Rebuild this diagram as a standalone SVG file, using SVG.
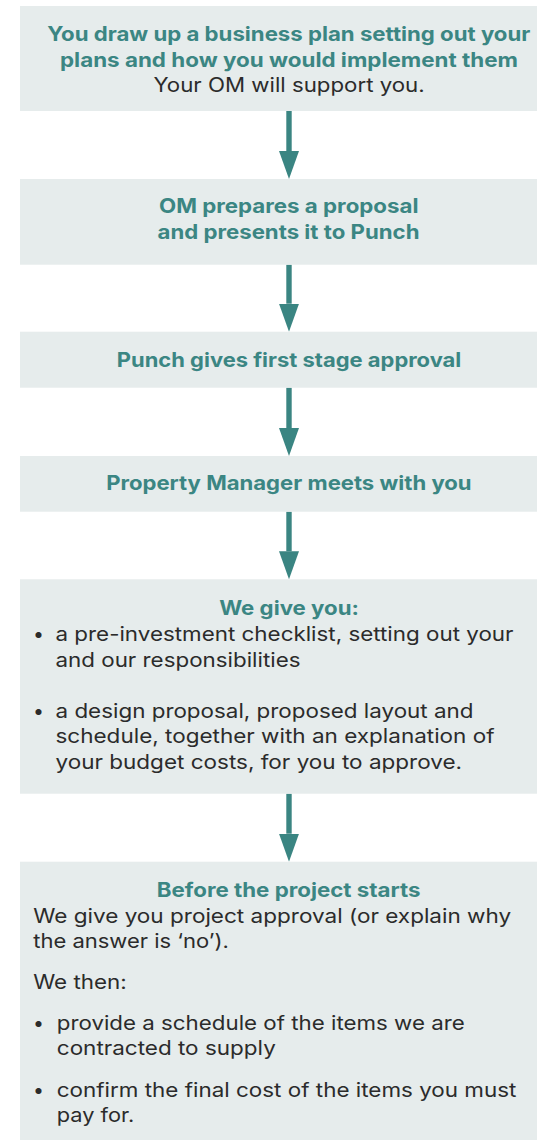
<svg xmlns="http://www.w3.org/2000/svg" width="537" height="1140" viewBox="0 0 537 1140">
<style>
.box{fill:#E6ECEC}
.h{font-family:Inter,"Liberation Sans",sans-serif;font-weight:700;font-size:20px;fill:#3B8683}
.t{font-family:Inter,"Liberation Sans",sans-serif;font-weight:400;font-size:19.5px;fill:#2B2B2B}
.b{font-family:Inter,"Liberation Sans",sans-serif;font-weight:400;font-size:19.5px;fill:#2B2B2B;text-anchor:middle}
.c{stroke:#3A8582;stroke-width:5.4;fill:none}
</style>
<defs>
<marker id="ah" markerUnits="userSpaceOnUse" markerWidth="28" markerHeight="20" viewBox="0 0 28 20" refX="0" refY="10" orient="auto">
<path d="M0,0 L28,10 L0,20 Z" fill="#3A8582"/>
</marker>
</defs>
<rect width="537" height="1140" fill="#FFFFFF"/>
<g id="connectors">
<line class="c" x1="289" y1="111" x2="289" y2="151" marker-end="url(#ah)"/>
<line class="c" x1="289" y1="264.7" x2="289" y2="303.7" marker-end="url(#ah)"/>
<line class="c" x1="289" y1="387.7" x2="289" y2="428" marker-end="url(#ah)"/>
<line class="c" x1="289" y1="511.7" x2="289" y2="551.3" marker-end="url(#ah)"/>
<line class="c" x1="289" y1="793.7" x2="289" y2="833.7" marker-end="url(#ah)"/>
</g>
<g id="node1">
<rect class="box" x="20" y="6" width="517" height="105"/>
<text class="h" x="47.3" y="41" textLength="483" lengthAdjust="spacingAndGlyphs">You draw up a business plan setting out your</text>
<text class="h" x="60" y="66.5" textLength="458" lengthAdjust="spacingAndGlyphs">plans and how you would implement them</text>
<text class="t" x="153.4" y="92" textLength="271.3" lengthAdjust="spacingAndGlyphs">Your OM will support you.</text>
</g>
<g id="node2">
<rect class="box" x="20" y="179" width="517" height="85.7"/>
<text class="h" x="159" y="212.5" textLength="259.5" lengthAdjust="spacingAndGlyphs">OM prepares a proposal</text>
<text class="h" x="157.5" y="239" textLength="262" lengthAdjust="spacingAndGlyphs">and presents it to Punch</text>
</g>
<g id="node3">
<rect class="box" x="20" y="331.7" width="517" height="56"/>
<text class="h" x="116.8" y="367" textLength="344.5" lengthAdjust="spacingAndGlyphs">Punch gives first stage approval</text>
</g>
<g id="node4">
<rect class="box" x="20" y="456" width="517" height="55.7"/>
<text class="h" x="106.2" y="490" textLength="365.4" lengthAdjust="spacingAndGlyphs">Property Manager meets with you</text>
</g>
<g id="node5">
<rect class="box" x="20" y="579.3" width="517" height="214.4"/>
<text class="h" x="219.2" y="614.5" textLength="139.7" lengthAdjust="spacingAndGlyphs">We give you:</text>
<text class="b" x="38.5" y="641">•</text>
<text class="t" x="55.5" y="641" textLength="458" lengthAdjust="spacingAndGlyphs">a pre-investment checklist, setting out your</text>
<text class="t" x="55.5" y="666.7" textLength="245" lengthAdjust="spacingAndGlyphs">and our responsibilities</text>
<text class="b" x="38.5" y="717.7">•</text>
<text class="t" x="55.5" y="717.7" textLength="418" lengthAdjust="spacingAndGlyphs">a design proposal, proposed layout and</text>
<text class="t" x="55.5" y="743.3" textLength="439" lengthAdjust="spacingAndGlyphs">schedule, together with an explanation of</text>
<text class="t" x="55.5" y="769" textLength="406.5" lengthAdjust="spacingAndGlyphs">your budget costs, for you to approve.</text>
</g>
<g id="node6">
<rect class="box" x="20" y="861.7" width="517" height="278.3"/>
<text class="h" x="156.8" y="897.3" textLength="263.7" lengthAdjust="spacingAndGlyphs">Before the project starts</text>
<text class="t" x="33.2" y="923.3" textLength="478" lengthAdjust="spacingAndGlyphs">We give you project approval (or explain why</text>
<text class="t" x="33.2" y="948.3" textLength="195.6" lengthAdjust="spacingAndGlyphs">the answer is ‘no’).</text>
<text class="t" x="33.2" y="989.3" textLength="93.5" lengthAdjust="spacingAndGlyphs">We then:</text>
<text class="b" x="38.5" y="1030">•</text>
<text class="t" x="56.8" y="1030" textLength="408" lengthAdjust="spacingAndGlyphs">provide a schedule of the items we are</text>
<text class="t" x="56.8" y="1055" textLength="219" lengthAdjust="spacingAndGlyphs">contracted to supply</text>
<text class="b" x="38.5" y="1096.7">•</text>
<text class="t" x="56.8" y="1096.7" textLength="459.6" lengthAdjust="spacingAndGlyphs">confirm the final cost of the items you must</text>
<text class="t" x="56.8" y="1121.7" textLength="77.4" lengthAdjust="spacingAndGlyphs">pay for.</text>
</g>
</svg>
